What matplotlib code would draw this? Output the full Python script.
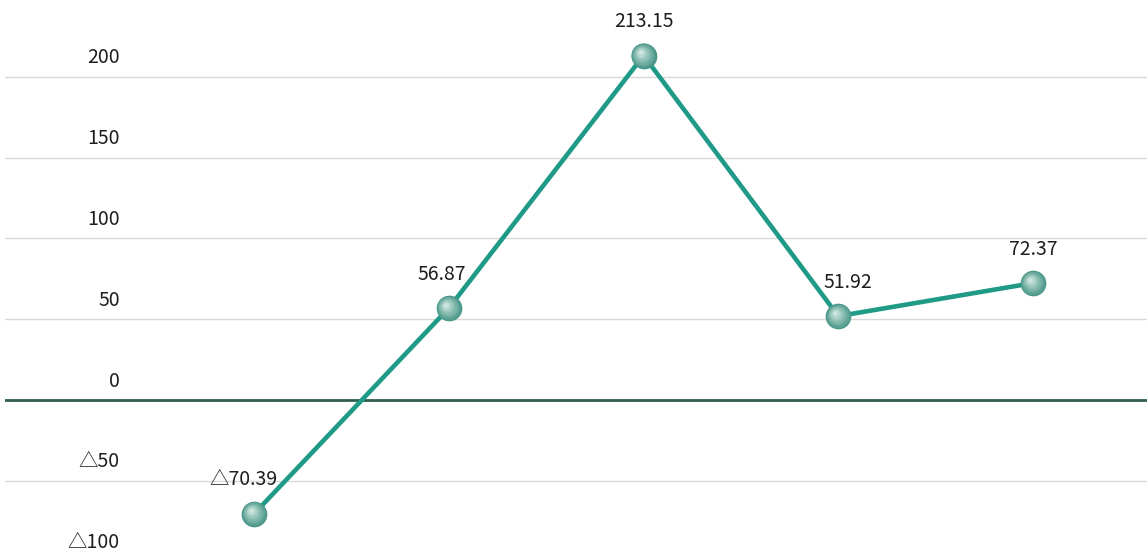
#!/usr/bin/env python3
"""Line chart with sphere-like markers and Japanese-style negative labels."""

import numpy as np
import matplotlib
matplotlib.use("Agg")
import matplotlib.pyplot as plt
from matplotlib.transforms import offset_copy

plt.rcParams["font.family"] = ["Noto Sans CJK JP", "DejaVu Sans"]

values = [-70.39, 56.87, 213.15, 51.92, 72.37]
y_ticks = [200, 150, 100, 50, 0, -50, -100]
# horizontal nudges of the value labels (pixels)
label_dx = [-11, -7, 0, 10, 0]

LINE_COLOR = "#1f9a87"
ZERO_COLOR = "#2f5f4c"
GRID_COLOR = "#d8d8d8"
TEXT_COLOR = "#1e1e1e"


def fmt(v: float, decimals: int = 2) -> str:
    s = f"{abs(v):.{decimals}f}" if decimals else f"{abs(v):.0f}"
    return ("△" + s) if v < 0 else s


def main() -> None:
    fig = plt.figure(figsize=(11.47, 5.51), dpi=100)
    ax = fig.add_axes([5 / 1147, 0, 1142 / 1147, 1])
    ax.set_xlim(-1.279, 4.585)
    ax.set_ylim(-93.4, 247.5)
    ax.axis("off")

    for t in y_ticks:
        if t == 0:
            ax.axhline(t, color=ZERO_COLOR, lw=2.0, zorder=2)
        else:
            ax.axhline(t, color=GRID_COLOR, lw=1.0, zorder=1)
        ax.annotate(fmt(t, 0), xy=(120 / 1147, t),
                    xycoords=("figure fraction", "data"),
                    textcoords="offset pixels", xytext=(0, 19),
                    ha="right", va="center", fontsize=14, color=TEXT_COLOR)

    x = np.arange(len(values))
    ax.plot(x, values, color=LINE_COLOR, lw=3.3, zorder=3,
            solid_joinstyle="miter", solid_capstyle="butt")

    # sphere-ish markers: stacked circles, shifted toward the upper left
    base = np.array([0x48, 0x96, 0x88]) / 255
    light = np.array([0xd2, 0xe8, 0xe0]) / 255
    steps = 16
    for k in range(steps):
        f = k / (steps - 1)
        size = (18.5 * (1 - 0.9 * f)) ** 2
        col = base * (1 - f) + light * f
        tr = offset_copy(ax.transData, fig=fig, x=-3.5 * f, y=3.5 * f, units="dots")
        ax.scatter(x, values, s=size, color=col, transform=tr,
                   zorder=4 + k * 0.01, linewidths=0)

    for xi, v, dx in zip(x, values, label_dx):
        ax.annotate(fmt(v), xy=(xi, v), textcoords="offset pixels",
                    xytext=(dx, 34), ha="center", va="center",
                    fontsize=14, color=TEXT_COLOR, zorder=6)

    fig.savefig("out.png", dpi=100)


if __name__ == "__main__":
    main()
